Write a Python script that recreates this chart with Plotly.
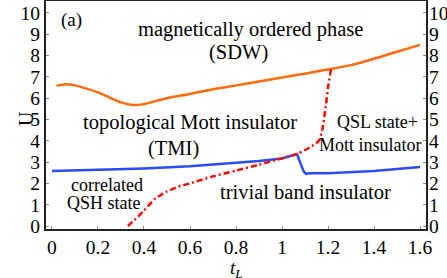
import plotly.graph_objects as go

# ---- data ----
sdw_x = [0.02, 0.06, 0.1, 0.15, 0.2, 0.25, 0.3, 0.35, 0.4, 0.45, 0.5, 0.6, 0.7, 0.8, 0.9, 1.0, 1.1, 1.2, 1.3, 1.4, 1.5, 1.6]
sdw_u = [6.58, 6.65, 6.6, 6.45, 6.27, 6.03, 5.8, 5.68, 5.72, 5.86, 6.0, 6.2, 6.42, 6.6, 6.78, 6.97, 7.15, 7.35, 7.55, 7.85, 8.18, 8.5]

tmi_x = [0.0, 0.2, 0.4, 0.6, 0.8, 0.9, 1.0, 1.065, 1.08, 1.095, 1.105, 1.12, 1.2, 1.3, 1.4, 1.5, 1.6]
tmi_u = [2.58, 2.64, 2.7, 2.8, 2.95, 3.05, 3.17, 3.38, 2.95, 2.55, 2.45, 2.48, 2.48, 2.52, 2.58, 2.67, 2.77]

band_x = [0.33, 0.36, 0.4, 0.45, 0.5, 0.55, 0.6, 0.7, 0.8, 0.9, 1.0, 1.07, 1.13, 1.16, 1.175, 1.19, 1.2, 1.213]
band_u = [0.0, 0.3, 0.72, 1.3, 1.62, 1.85, 2.0, 2.33, 2.6, 2.88, 3.18, 3.4, 3.75, 4.0, 4.5, 5.6, 6.5, 7.35]

x_ticks = [0, 0.2, 0.4, 0.6, 0.8, 1, 1.2, 1.4, 1.6]
x_tick_labels = ["0", "0.2", "0.4", "0.6", "0.8", "1", "1.2", "1.4", "1.6"]
y_ticks = list(range(0, 11))

labels = [
    ("magnetically ordered phase", 0.861, 9.2, 20.5),
    ("(SDW)", 0.809, 8.12, 20.5),
    ("topological Mott insulator", 0.6, 4.84, 20.5),
    ("(TMI)", 0.53, 3.66, 20.5),
    ("correlated", 0.239, 1.92, 18),
    ("QSH state", 0.226, 1.08, 18),
    ("trivial band insulator", 1.104, 1.6, 20.5),
    ("QSL state+", 1.413, 4.88, 18),
    ("Mott insulator", 1.383, 3.8, 18),
    ("(a)", 0.087, 9.67, 19),
]

FONT = "Liberation Serif"

fig = go.Figure()
fig.add_trace(go.Scatter(x=sdw_x, y=sdw_u, mode="lines",
                         line=dict(color="#ff6a0a", width=2.5, shape="spline", smoothing=0.8),
                         showlegend=False, hoverinfo="skip"))
fig.add_trace(go.Scatter(x=tmi_x, y=tmi_u, mode="lines",
                         line=dict(color="#2a4bff", width=2.5),
                         showlegend=False, hoverinfo="skip"))
fig.add_trace(go.Scatter(x=band_x, y=band_u, mode="lines",
                         line=dict(color="#ff0000", width=2.5, dash="6px,3px,2px,3px",
                                   shape="spline", smoothing=0.6),
                         showlegend=False, hoverinfo="skip"))
# invisible trace to show the mirrored right axis
fig.add_trace(go.Scatter(x=[0], y=[0], yaxis="y2", mode="markers",
                         marker=dict(opacity=0), showlegend=False, hoverinfo="skip"))

for text, x, y, size in labels:
    fig.add_annotation(x=x, y=y, text=text, showarrow=False,
                       font=dict(family=FONT, size=size, color="black"))

fig.add_annotation(xref="paper", yref="paper", x=0.5, y=-0.236, text="<i>t</i><sub><i>L</i></sub>",
                   showarrow=False, font=dict(family=FONT, size=19, color="black"))
fig.add_annotation(xref="paper", yref="paper", x=-0.087, y=0.487, text="U", textangle=-90,
                   showarrow=False, font=dict(family=FONT, size=20, color="black"))

axis_common = dict(showgrid=False, zeroline=False, ticks="inside", ticklen=3,
                   tickcolor="#888", linecolor="#222", linewidth=2, automargin=False,
                   tickfont=dict(family=FONT, size=19.5, color="black"))

fig.update_layout(
    width=447, height=278,
    margin=dict(l=46, r=21, t=1, b=49),
    paper_bgcolor="white", plot_bgcolor="white",
    font=dict(family=FONT, color="black"),
    xaxis=dict(range=[-0.026, 1.626], tickvals=x_ticks, ticktext=x_tick_labels,
               showline=True, mirror=True, **axis_common),
    yaxis=dict(range=[-0.14, 10.56], tickvals=y_ticks, showline=True, **axis_common),
    yaxis2=dict(range=[-0.14, 10.56], tickvals=y_ticks, overlaying="y", side="right",
                showline=True, ticklabelstandoff=-3, **axis_common),
)

fig.write_html("out.html", config={"displayModeBar": False},
               post_script="document.body.style.margin='0px';document.body.style.overflow='hidden';")
